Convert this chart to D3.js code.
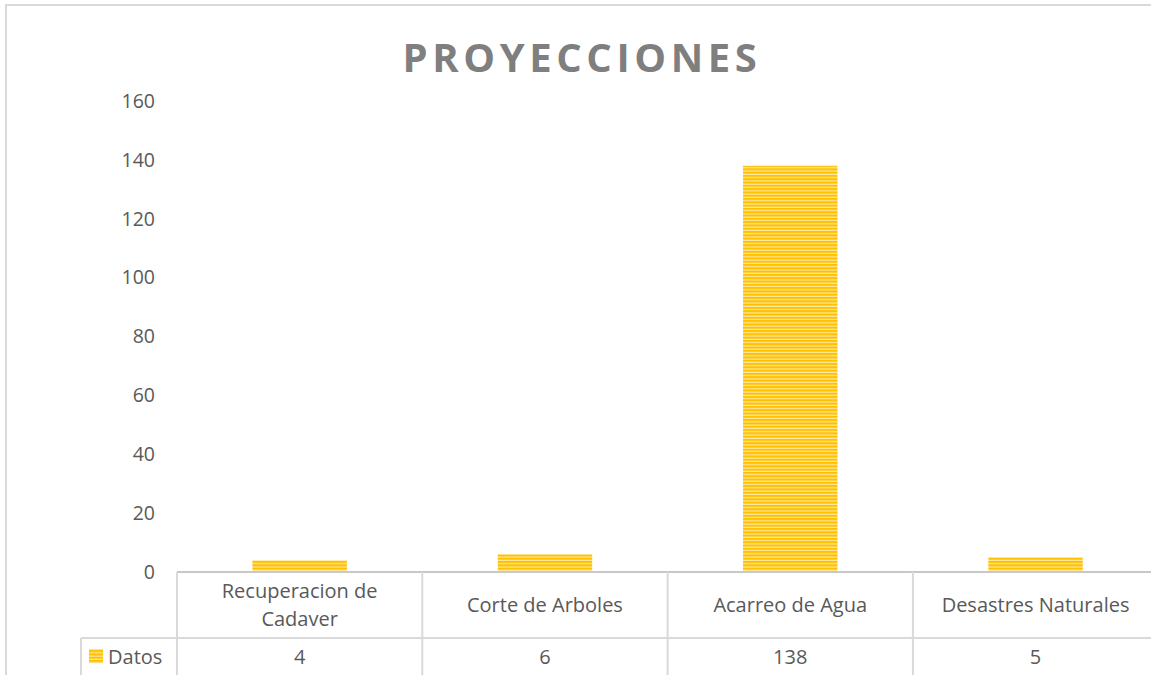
<!DOCTYPE html>
<html>
<head>
<meta charset="utf-8">
<script src="https://cdn.jsdelivr.net/npm/d3@7"></script>
<style>
  html, body { margin: 0; padding: 0; background: #fff; overflow: hidden; }
  svg { display: block; font-family: "Open Sans", sans-serif; }
</style>
</head>
<body>
<div id="chart"></div>
<script>
// chart data
const categories = [["Recuperacion de", "Cadaver"], ["Corte de Arboles"], ["Acarreo de Agua"], ["Desastres Naturales"]];
const values = [4, 6, 138, 5];
const seriesName = "Datos";
const yTicks = [0, 20, 40, 60, 80, 100, 120, 140, 160];

const width = 1151, height = 675;
const textColor = "#595959";
const gridColor = "#d9d9d9";
const labelSize = 20;

const svg = d3.select("#chart").append("svg")
    .attr("width", width)
    .attr("height", height);

// striped fill like the excel bar
const defs = svg.append("defs");
const pat = defs.append("pattern")
    .attr("id", "stripes")
    .attr("patternUnits", "userSpaceOnUse")
    .attr("width", 8).attr("height", 3.3);
pat.append("rect").attr("width", 8).attr("height", 3.3).attr("fill", "#ffe9a3");
pat.append("rect").attr("width", 8).attr("height", 2.1).attr("fill", "#ffc000");

// outer chart border
svg.append("rect")
    .attr("x", 6).attr("y", 5)
    .attr("width", width + 10).attr("height", height + 10)
    .attr("fill", "none")
    .attr("stroke", gridColor)
    .attr("stroke-width", 2);

// title
svg.append("text")
    .attr("x", 582).attr("y", 72)
    .attr("text-anchor", "middle")
    .attr("fill", "#7f7f7f")
    .attr("font-size", 40)
    .attr("font-weight", "bold")
    .attr("letter-spacing", 4.6)
    .text("PROYECCIONES");

const x = d3.scaleBand()
    .domain(d3.range(categories.length))
    .range([177, 177 + 245.3 * 4])
    .paddingInner(0)
    .paddingOuter(0);

const y = d3.scaleLinear()
    .domain([0, 160])
    .range([572, 101]);

// y axis labels
const yAxis = svg.append("g")
    .attr("transform", "translate(155,0)")
    .call(d3.axisLeft(y).tickValues(yTicks).tickSize(0).tickPadding(0));
yAxis.select(".domain").remove();
yAxis.selectAll("text")
    .attr("fill", textColor)
    .attr("font-size", 19.5)
    .attr("font-family", "Open Sans, sans-serif");

// bars
const barW = x.bandwidth() * 0.385;
svg.append("g")
    .selectAll("rect")
    .data(values)
    .join("rect")
    .attr("x", (d, i) => x(i) + x.bandwidth() / 2 - barW / 2)
    .attr("width", barW)
    .attr("y", d => y(d))
    .attr("height", d => y(0) - y(d))
    .attr("fill", "url(#stripes)");

// data table below the axis
const rowTop = y(0), rowMid = 638, tableBottom = height + 5;
const table = svg.append("g")
    .attr("stroke", gridColor)
    .attr("stroke-width", 2);
table.append("line")
    .attr("x1", 177).attr("x2", width + 5)
    .attr("y1", rowTop).attr("y2", rowTop)
    .attr("stroke", "#c8c8c8");
table.append("line")
    .attr("x1", 81).attr("x2", width + 5)
    .attr("y1", rowMid).attr("y2", rowMid);
table.append("line")
    .attr("x1", 81).attr("x2", 81)
    .attr("y1", rowMid).attr("y2", tableBottom);
table.selectAll(".vline")
    .data(d3.range(categories.length + 1))
    .join("line")
    .attr("x1", i => i < categories.length ? x(i) : x(i - 1) + x.bandwidth())
    .attr("x2", i => i < categories.length ? x(i) : x(i - 1) + x.bandwidth())
    .attr("y1", rowTop).attr("y2", tableBottom);

// category labels
svg.append("g")
    .selectAll("text")
    .data(categories)
    .join("text")
    .attr("x", (d, i) => x(i) + x.bandwidth() / 2)
    .attr("y", d => d.length > 1 ? 598 : 612)
    .attr("text-anchor", "middle")
    .attr("fill", textColor)
    .attr("font-size", labelSize)
    .each(function (d) {
        d3.select(this).selectAll("tspan")
            .data(d)
            .join("tspan")
            .attr("x", this.getAttribute("x"))
            .attr("dy", (t, j) => j === 0 ? 0 : 28)
            .text(t => t);
    });

// values row
svg.append("g")
    .selectAll("text")
    .data(values)
    .join("text")
    .attr("x", (d, i) => x(i) + x.bandwidth() / 2)
    .attr("y", 664)
    .attr("text-anchor", "middle")
    .attr("fill", textColor)
    .attr("font-size", labelSize)
    .text(d => d);

// legend key
svg.append("rect")
    .attr("x", 89).attr("y", 649)
    .attr("width", 14).attr("height", 14)
    .attr("fill", "url(#stripes)");
svg.append("text")
    .attr("x", 108).attr("y", 664)
    .attr("fill", textColor)
    .attr("font-size", labelSize)
    .text(seriesName);
</script>
</body>
</html>
